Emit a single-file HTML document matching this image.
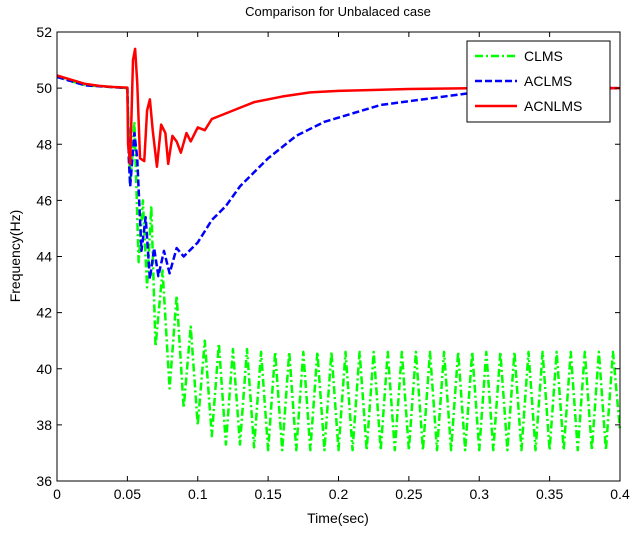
<!DOCTYPE html>
<html><head><meta charset="utf-8"><style>
body{margin:0;background:#fff;}
svg text{font-family:"Liberation Sans",sans-serif;}
</style></head><body>
<svg id="chart" width="638" height="531"></svg>
<script>
const xTicks=[0,0.05,0.1,0.15,0.2,0.25,0.3,0.35,0.4];
const xTickLabels=["0","0.05","0.1","0.15","0.2","0.25","0.3","0.35","0.4"];
const yTicks=[36,38,40,42,44,46,48,50,52];
const redT=[0,0.01,0.02,0.03,0.04,0.05,0.0505,0.052,0.054,0.0555,0.057,0.059,0.062,0.064,0.066,0.068,0.071,0.074,0.077,0.079,0.082,0.085,0.088,0.092,0.095,0.1,0.105,0.11,0.12,0.13,0.14,0.16,0.18,0.2,0.25,0.3,0.4];
const redV=[50.45,50.3,50.15,50.08,50.04,50.02,48.0,47.3,51.0,51.4,50.2,47.5,47.4,49.2,49.6,48.5,47.2,48.7,48.4,47.3,48.3,48.1,47.7,48.4,48.1,48.6,48.5,48.9,49.1,49.3,49.5,49.7,49.85,49.9,49.97,50,50];
const blueT=[0,0.02,0.05,0.051,0.052,0.055,0.057,0.06,0.063,0.066,0.069,0.072,0.076,0.08,0.085,0.09,0.1,0.11,0.12,0.13,0.14,0.15,0.17,0.19,0.21,0.23,0.26,0.29,0.32,0.35,0.4];
const blueV=[50.4,50.1,50.0,47.5,46.5,48.4,47.5,44.2,45.4,43.2,44.3,43.3,44.2,43.4,44.3,44.0,44.5,45.3,45.8,46.5,47.0,47.5,48.3,48.8,49.1,49.4,49.6,49.8,49.95,50,50];
const greenT=[0,0.02,0.05,0.052,0.055,0.058,0.061,0.064,0.067,0.07,0.075,0.08,0.085,0.09,0.095,0.1,0.105,0.11,0.115,0.12,0.125,0.13,0.135,0.14,0.145,0.15,0.155,0.16,0.165,0.17,0.175,0.18,0.185,0.19,0.195,0.2,0.205,0.21,0.215,0.22,0.225,0.23,0.235,0.24,0.245,0.25,0.255,0.26,0.265,0.27,0.275,0.28,0.285,0.29,0.295,0.3,0.305,0.31,0.315,0.32,0.325,0.33,0.335,0.34,0.345,0.35,0.355,0.36,0.365,0.37,0.375,0.38,0.385,0.39,0.395,0.4];
const greenV=[50.4,50.1,50.0,46.5,48.8,43.8,46.0,42.9,45.8,40.8,43.5,39.3,42.6,38.6,41.5,38.0,41.0,37.6,40.9,37.3,40.7,37.3,40.7,37.2,40.6,37.1,40.6,37.1,40.6,37.1,40.6,37.1,40.6,37.1,40.6,37.1,40.6,37.1,40.6,37.1,40.6,37.1,40.6,37.1,40.6,37.1,40.6,37.1,40.6,37.1,40.6,37.1,40.6,37.1,40.6,37.1,40.6,37.1,40.6,37.1,40.6,37.1,40.6,37.1,40.6,37.1,40.6,37.1,40.6,37.1,40.6,37.1,40.6,37.1,40.6,37.8];
const legendLabels=["CLMS","ACLMS","ACNLMS"];
const L=57,R=620,T=32,B=481;
const xs=v=>L+(v-0)/(0.4)*(R-L);
const ys=v=>B-(v-36)/16*(B-T);
const svg=document.getElementById('chart');
const NS='http://www.w3.org/2000/svg';
function mk(tag,attrs,txt){const e=document.createElementNS(NS,tag);for(const k in attrs)e.setAttribute(k,attrs[k]);if(txt!==undefined)e.textContent=txt;svg.appendChild(e);return e;}
function series(tx,vx,color,dash,name){
  const p=mk('polyline',{points:tx.map((t,i)=>xs(t)+','+ys(vx[i])).join(' '),fill:'none',stroke:color,'stroke-width':2.5,'stroke-dasharray':dash,'stroke-linejoin':'round'});
  
  
}
series(greenT,greenV,'#00ff00','8,3,2,3','clms-line');
series(blueT,blueV,'#0000ff','7,3','aclms-line');
series(redT,redV,'#ff0000','','acnlms-line');
const frame=mk('rect',{x:L,y:T,width:R-L,height:B-T,fill:'none',stroke:'#000','stroke-width':1});


xTicks.forEach((t,i)=>{
  const x=xs(t);
  mk('line',{x1:x,y1:B,x2:x,y2:B-5,stroke:'#000'});
  mk('line',{x1:x,y1:T,x2:x,y2:T+5,stroke:'#000'});
  const lb=mk('text',{x:x,y:B+18,'text-anchor':'middle','font-size':14},xTickLabels[i]);
  
  
});
yTicks.forEach(v=>{
  const y=ys(v);
  mk('line',{x1:L,y1:y,x2:L+5,y2:y,stroke:'#000'});
  mk('line',{x1:R,y1:y,x2:R-5,y2:y,stroke:'#000'});
  const lb=mk('text',{x:L-5,y:y+5,'text-anchor':'end','font-size':14},String(v));
  
  
});
const title=mk('text',{x:338,y:16,'text-anchor':'middle','font-size':13},'Comparison for Unbalaced case');


const xt=mk('text',{x:338,y:523,'text-anchor':'middle','font-size':14},'Time(sec)');


const yt=mk('text',{x:20,y:256,'text-anchor':'middle','font-size':14,transform:'rotate(-90 20 256)'},'Frequency(Hz)');


const lg=mk('rect',{x:467,y:41,width:143,height:81,fill:'#fff',stroke:'#000'});


const cols=['#00ff00','#0000ff','#ff0000'],dashes=['8,3,2,3','7,3',''];
legendLabels.forEach((s,i)=>{
  const y=56+i*25;
  mk('line',{x1:475,y1:y,x2:517,y2:y,stroke:cols[i],'stroke-width':2.5,'stroke-dasharray':dashes[i]});
  const t=mk('text',{x:524,y:y+5,'font-size':14},s);
  
  
});
</script>
</body></html>
